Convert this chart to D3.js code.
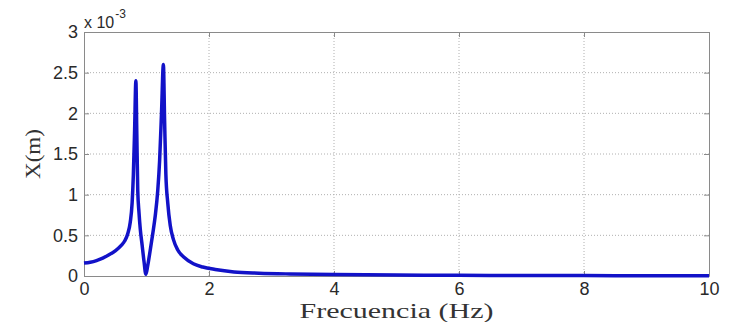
<!DOCTYPE html>
<html>
<head>
<meta charset="utf-8">
<script src="https://cdn.jsdelivr.net/npm/d3@7"></script>
<style>
  body { margin: 0; background: #fff; }
  svg { display: block; }
</style>
</head>
<body>
<svg id="chart" width="733" height="322"></svg>
<script>
// frequency (Hz) and displacement amplitude (x 10^-3 m)
const freq = [0, 0.1, 0.2, 0.3, 0.4, 0.5, 0.6, 0.65, 0.7, 0.74, 0.77, 0.79, 0.81, 0.83,
  0.845, 0.86, 0.88, 0.9, 0.93, 0.96, 0.99, 1.02, 1.06, 1.1, 1.14, 1.18, 1.21, 1.24, 1.27,
  1.29, 1.31, 1.34, 1.38, 1.43, 1.5, 1.6, 1.75, 1.9, 2.1, 2.4, 2.8, 3.3, 4, 5, 6, 7, 8, 9, 10]
const amp = [0.16, 0.17, 0.19, 0.22, 0.26, 0.31, 0.38, 0.43, 0.52, 0.66, 0.9, 1.25, 1.8, 2.40,
  1.75, 1.05, 0.78, 0.58, 0.38, 0.18, 0.02, 0.13, 0.32, 0.52, 0.74, 1.05, 1.42, 2.0, 2.6,
  1.9, 1.25, 0.9, 0.62, 0.45, 0.32, 0.23, 0.15, 0.11, 0.08, 0.05, 0.035, 0.025, 0.017,
  0.011, 0.008, 0.006, 0.005, 0.004, 0.003]

const xTicks = [0, 2, 4, 6, 8, 10]
const yTicks = [0, 0.5, 1, 1.5, 2, 2.5, 3]

const margin = { top: 32, right: 24, bottom: 46, left: 84 }
const svg = d3.select('#chart')
const width = +svg.attr('width') - margin.left - margin.right
const height = +svg.attr('height') - margin.top - margin.bottom

const x = d3.scaleLinear().domain([0, 10]).range([0, width])
const y = d3.scaleLinear().domain([0, 3]).range([height, 0])

const g = svg.append('g').attr('transform', 'translate(' + margin.left + ',' + margin.top + ')')

// dotted grid
g.append('g').selectAll('line').data(xTicks.slice(1, -1)).join('line')
  .attr('x1', d => x(d)).attr('x2', d => x(d)).attr('y1', 0).attr('y2', height)
  .attr('stroke', '#b0b0b0').attr('stroke-dasharray', '1,2')
g.append('g').selectAll('line').data(yTicks.slice(1, -1)).join('line')
  .attr('x1', 0).attr('x2', width).attr('y1', d => y(d)).attr('y2', d => y(d))
  .attr('stroke', '#b0b0b0').attr('stroke-dasharray', '1,2')

// axes (ticks pointing inward, box around)
const tickFont = '"Liberation Sans", Arial, sans-serif'
g.append('g').attr('transform', 'translate(0,' + height + ')')
  .call(d3.axisBottom(x).tickValues(xTicks).tickSizeInner(-5).tickSizeOuter(0).tickPadding(6))
g.append('g')
  .call(d3.axisLeft(y).tickValues(yTicks).tickSizeInner(-5).tickSizeOuter(0).tickPadding(6)
    .tickFormat(d => d.toString()))
g.append('g').call(d3.axisTop(x).tickValues(xTicks).tickSizeInner(-5).tickSizeOuter(0).tickFormat(''))
g.append('g').attr('transform', 'translate(' + width + ',0)')
  .call(d3.axisRight(y).tickValues(yTicks).tickSizeInner(-5).tickSizeOuter(0).tickFormat(''))
g.selectAll('.domain, .tick line').attr('stroke', '#8a8a8a')
g.selectAll('.tick text').attr('font-family', tickFont).attr('font-size', 18).attr('fill', '#2a2a2a')

// the response curve
const pts = freq.map((f, i) => [f, amp[i]])
g.append('path').datum(pts)
  .attr('fill', 'none').attr('stroke', '#1212c8').attr('stroke-width', 3.5)
  .attr('stroke-linejoin', 'round')
  .attr('d', d3.line().x(d => x(d[0])).y(d => y(d[1])).curve(d3.curveMonotoneX))

// exponent label
const expo = svg.append('text').attr('x', margin.left).attr('y', 28)
  .attr('font-family', tickFont).attr('font-size', 16).attr('fill', '#2a2a2a')
expo.append('tspan').text('x 10')
expo.append('tspan').attr('font-size', 12).attr('dy', -10).attr('dx', 1).text('-3')

// axis titles
svg.append('text').attr('x', margin.left + width / 2).attr('y', 318)
  .attr('text-anchor', 'middle').attr('font-family', '"Liberation Serif", serif')
  .attr('font-size', 21).attr('fill', '#333')
  .attr('textLength', 194).attr('lengthAdjust', 'spacingAndGlyphs')
  .text('Frecuencia (Hz)')
svg.append('text').attr('transform', 'translate(40,' + (margin.top + height / 2) + ') rotate(-90)')
  .attr('text-anchor', 'middle').attr('font-family', '"Liberation Serif", serif')
  .attr('font-size', 21).attr('fill', '#333')
  .attr('textLength', 50).attr('lengthAdjust', 'spacingAndGlyphs')
  .text('X(m)')
</script>
</body>
</html>
